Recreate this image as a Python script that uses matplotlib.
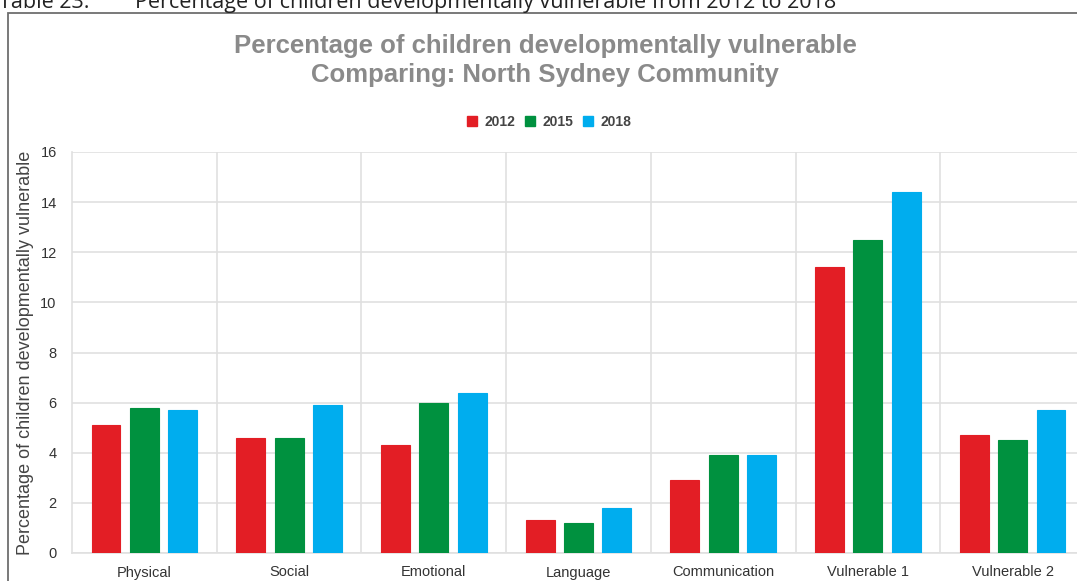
import matplotlib
matplotlib.use('Agg')
import matplotlib.pyplot as plt
from matplotlib.patches import Rectangle, Patch
import numpy as np

categories = ['Physical', 'Social', 'Emotional', 'Language', 'Communication',
              'Vulnerable 1', 'Vulnerable 2']
years = ['2012', '2015', '2018']
v2012 = [5.1, 4.6, 4.3, 1.3, 2.9, 11.4, 4.7]
v2015 = [5.8, 4.6, 6.0, 1.2, 3.9, 12.5, 4.5]
v2018 = [5.7, 5.9, 6.4, 1.8, 3.9, 14.4, 5.7]
colors = ['#e31e25', '#00913f', '#00adee']

W, H = 1077, 581
plt.rcParams['font.family'] = ['Liberation Sans', 'DejaVu Sans']
fig = plt.figure(figsize=(W / 100, H / 100), dpi=100)

# page caption, mostly cut off at the top (as in the source page)
fig.text(-1 / W, 1 - 8 / H, 'Table 23.', fontsize=15.5, color='#222222',
         family=['Open Sans', 'DejaVu Sans'], va='baseline', ha='left')
fig.text(135 / W, 1 - 8 / H,
         'Percentage of children developmentally vulnerable from 2012 to 2018',
         fontsize=15.5, color='#222222', family=['Open Sans', 'DejaVu Sans'],
         va='baseline', ha='left')

# outer chart frame
fig.patches.append(Rectangle((8 / W, -0.2), 1.2, 1.2 - 13 / H,
                             transform=fig.transFigure, fill=False,
                             edgecolor='#6e6e6e', linewidth=1.3))

ax = fig.add_axes([72 / W, 28 / H, 1013 / W, 401 / H])
x = np.arange(len(categories))
offsets = [-0.265, 0, 0.265]
for vals, off, c, yr in zip([v2012, v2015, v2018], offsets, colors, years):
    ax.bar(x + off, vals, width=0.2, color=c, edgecolor=c, linewidth=0.8,
           label=yr, zorder=3)

ax.set_xlim(-0.5, len(categories) - 0.5)
ax.set_ylim(0, 16)
ax.set_yticks(np.arange(0, 17, 2))
ax.set_xticks(x)
ax.set_xticklabels(categories)
ax.set_xticks(np.arange(0.5, len(categories) - 0.5, 1), minor=True)
ax.grid(axis='y', which='major', color='#e0e0e0', linewidth=1.2, zorder=0)
ax.grid(axis='x', which='minor', color='#e0e0e0', linewidth=1.2, zorder=0)
ax.tick_params(which='both', length=0)
ax.tick_params(axis='y', labelsize=10.5, labelcolor='#333333', pad=11)
ax.tick_params(axis='x', labelsize=10.5, labelcolor='#333333', pad=9)
for s in ['top', 'right']:
    ax.spines[s].set_visible(False)
for s in ['left', 'bottom']:
    ax.spines[s].set_color('#e0e0e0')
    ax.spines[s].set_linewidth(1.2)
ax.set_ylabel('Percentage of children developmentally vulnerable',
              fontsize=13, color='#444444')
ax.yaxis.set_label_coords(-38 / 1013, 0.5)

fig.text(545 / W, 1 - 46 / H, 'Percentage of children developmentally vulnerable',
         fontsize=18.5, fontweight='bold', color='#8a8a8a', ha='center', va='center')
fig.text(545 / W, 1 - 75 / H, 'Comparing: North Sydney Community',
         fontsize=18.5, fontweight='bold', color='#8a8a8a', ha='center', va='center')

handles = [Patch(facecolor=c, edgecolor=c) for c in colors]
fig.legend(handles, years, loc='center', bbox_to_anchor=(549 / W, 1 - 122 / H),
           ncol=3, frameon=False, handlelength=0.75, handleheight=0.75,
           handletextpad=0.5, columnspacing=0.7,
           prop={'size': 10, 'weight': 'bold'}, labelcolor='#444444')

fig.savefig('out.png', dpi=100)
